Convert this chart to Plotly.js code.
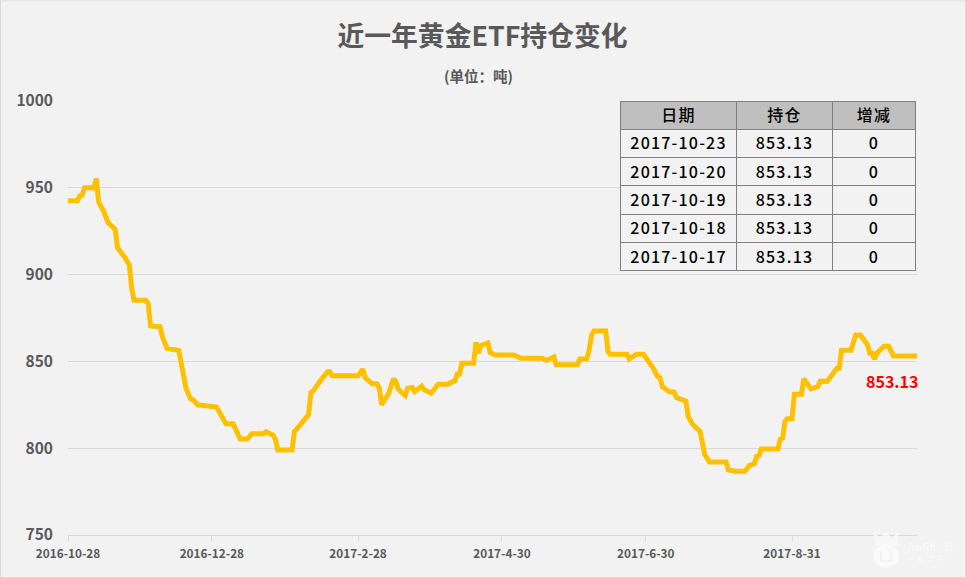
<!DOCTYPE html>
<html>
<head>
<meta charset="utf-8">
<script src="https://cdn.plot.ly/plotly-3.0.0.min.js"></script>
<style>
html,body{margin:0;padding:0;background:#F2F2F2;}
#frame{position:absolute;left:0;top:0;width:966px;height:578px;box-sizing:border-box;border:1px solid #D9D9D9;border-top-color:#E4E4E4;}
#chart{position:absolute;left:0;top:0;width:966px;height:578px;}
#chart .table text{letter-spacing:1.2px;}
</style>
</head>
<body>
<div id="chart"></div>
<div id="frame"></div>
<script>
const startDate = '2016-10-28';
const dayOffsets = [0,4,5,6,7,11,12,13,15,17,20,21,24,26,27,28,33,34,35,39,40,42,47,48,49,50,52,53,55,60,63,67,70,73,76,78,83,84,87,88,89,95,96,97,99,102,103,104,107,108,110,111,112,123,125,126,129,131,132,133,136,138,139,140,143,144,146,147,150,151,154,157,161,164,165,166,167,172,173,174,175,178,179,181,189,192,201,203,206,207,216,217,220,221,222,223,228,229,230,237,238,241,244,248,250,251,252,255,257,258,262,263,264,265,268,270,272,279,280,283,287,289,291,292,293,294,301,302,303,304,305,307,308,311,312,315,318,319,322,326,327,328,332,333,334,336,339,340,341,342,343,346,348,350,360];
const holdings = [942.6,942.6,945.3,945.7,950.1,950.1,955.3,941.8,936.7,930,926,915.4,910.2,905.5,892.1,885.2,885.2,883.4,870.4,870,864.3,857.6,856.2,849,840,834.6,828.4,828,825,823.9,823.7,814.1,814.1,805.3,805.3,808.3,808.3,809.5,807.4,804.9,799,799,809.7,811,814.8,819.3,832.1,833,838.8,840.3,844,844,841.7,841.7,845.5,840.7,837.1,837.1,834.6,825,831.7,840,838.4,834,830.3,834.6,835,832.6,835.7,833.6,831.7,836.9,836.9,838.8,842.6,842.6,849,849,861,854.7,859.1,860.6,855.1,853.7,853.7,851.8,851.8,850.5,852.6,848,848,851.4,851.4,856.6,865.2,867.5,867.5,855.6,854.1,854.1,851.3,854.1,854.1,846.4,841.3,840.7,835.5,832.5,832.3,829.2,827.1,818.3,816,813.5,809.7,796.3,792.1,792.1,787.5,786.7,786.7,790.1,791,795.3,795.7,799.5,799.5,805.3,805.9,815.4,817,817,831.1,831.1,840,834.2,835.5,838.6,838.6,846.1,846.1,856.4,856.4,862.4,865.2,865.2,859.5,854.7,854.7,851.3,854.7,858.7,858.7,853.13,853.13];
const tickDates = ['2016-10-28','2016-12-28','2017-02-28','2017-04-30','2017-06-30','2017-08-31'];
const tickLabels = ['2016-10-28','2016-12-28','2017-2-28','2017-4-30','2017-6-30','2017-8-31'];
const yTicks = [750,800,850,900,950,1000];
const tableHeader = ['日期','持仓','增减'];
const tableDates = ['2017-10-23','2017-10-20','2017-10-19','2017-10-18','2017-10-17'];
const tableHoldings = ['853.13','853.13','853.13','853.13','853.13'];
const tableChange = ['0','0','0','0','0'];
const lastLabel = '853.13';

const dates = dayOffsets.map(d => new Date(Date.parse(startDate + 'T00:00:00Z') + d * 864e5).toISOString().slice(0, 10));
const FONT = '"Noto Sans CJK SC","Noto Sans",sans-serif';
const W = 966, H = 578, L = 68, R = 917, T = 100.5, B = 535;
const pw = R - L, ph = B - T;
const px = v => (v - L) / pw, py = v => (B - v) / ph;
const poly = (pts, close) => 'M ' + pts.map(p => px(p[0]) + ' ' + py(p[1])).join(' L ') + (close ? ' Z' : '');

const traces = [
  {type:'scatter', mode:'lines', x:dates, y:holdings, cliponaxis:false, hoverinfo:'skip',
   line:{color:'#FFC000', width:5, shape:'linear'}},
  {type:'table', domain:{x:[px(620.5),px(915.5)], y:[py(278),py(99.5)]},
   columnwidth:[116,96,83],
   header:{values:tableHeader, height:28.3, align:'center',
     fill:{color:'#BFBFBF'}, line:{color:'#7F7F7F',width:1},
     font:{family:FONT,size:16,color:'#000000',weight:500}},
   cells:{values:[tableDates,tableHoldings,tableChange], height:28.3, align:'center',
     fill:{color:'#F2F2F2'}, line:{color:'#7F7F7F',width:1},
     font:{family:FONT,size:16,color:'#000000',weight:500}}}
];

const WM = '#FAFAFA';
const layout = {
  width:W, height:H, showlegend:false,
  paper_bgcolor:'#F2F2F2', plot_bgcolor:'#F2F2F2',
  margin:{l:L, r:W-R, t:T, b:H-B, pad:0},
  font:{family:FONT, color:'#595959'},
  title:{text:'<b>近一年黄金ETF持仓变化</b>', font:{family:FONT,size:26.8,color:'#595959'},
    x:482.5/W, xanchor:'center', y:1-37/H, yanchor:'middle'},
  xaxis:{type:'date', range:[dates[0], dates[dates.length-1]], tickmode:'array',
    tickvals:tickDates, ticktext:tickLabels, ticks:'outside', ticklen:5, tickcolor:'#D9D9D9', tickwidth:1,
    showgrid:false, showline:true, linecolor:'#D9D9D9', linewidth:1, zeroline:false,
    ticklabelstandoff:3,
    tickfont:{family:FONT,size:11.8,color:'#595959',weight:700}, tickangle:0},
  yaxis:{range:[750,1000], tickmode:'array', tickvals:yTicks, ticktext:yTicks.map(String),
    showgrid:true, gridcolor:'#D9D9D9', gridwidth:1, showline:false, zeroline:false, ticks:'',
    ticklabelstandoff:14, tickfont:{family:FONT,size:15.5,color:'#595959',weight:700}},
  annotations:[
    {xref:'paper',yref:'paper',x:px(478),y:py(75),xanchor:'center',yanchor:'middle',showarrow:false,
     text:'<b>(单位：吨)</b>',font:{family:FONT,size:14.5,color:'#595959'}},
    {x:dates[dates.length-1],y:holdings[holdings.length-1],xref:'x',yref:'y',ax:-25,ay:25,axref:'pixel',ayref:'pixel',
     showarrow:true,arrowwidth:0,arrowcolor:'rgba(0,0,0,0)',xanchor:'center',yanchor:'middle',
     text:'<b>'+lastLabel+'</b>',font:{family:FONT,size:16,color:'#FF0000'}},
    {xref:'paper',yref:'paper',x:px(929),y:py(548),xanchor:'center',yanchor:'middle',showarrow:false,
     text:'<i>JinSheYi</i>',font:{family:'"DejaVu Serif",serif',size:11,color:WM}},
    {xref:'paper',yref:'paper',x:px(930),y:py(559),xanchor:'center',yanchor:'middle',showarrow:false,
     text:'—  金 舍 易  —',font:{family:FONT,size:8,color:WM}}
  ],
  shapes:[
    {type:'path',xref:'paper',yref:'paper',
     path:poly([[874,550],[886,544],[898,550],[898,562],[886,568],[874,562]],true),
     line:{color:WM,width:1},fillcolor:WM},
    {type:'path',xref:'paper',yref:'paper',
     path:poly([[876,545],[874,533],[880,539],[886,532],[892,539],[898,533],[896,545]],true),
     line:{color:WM,width:1},fillcolor:'rgba(250,250,250,0.7)'},
    {type:'path',xref:'paper',yref:'paper',
     path:poly([[881,551],[881,561],[891,561],[891,551]],false),
     line:{color:'#F2F2F2',width:2}}
  ]
};
Plotly.newPlot('chart', traces, layout, {displayModeBar:false, staticPlot:true});
</script>
</body>
</html>
